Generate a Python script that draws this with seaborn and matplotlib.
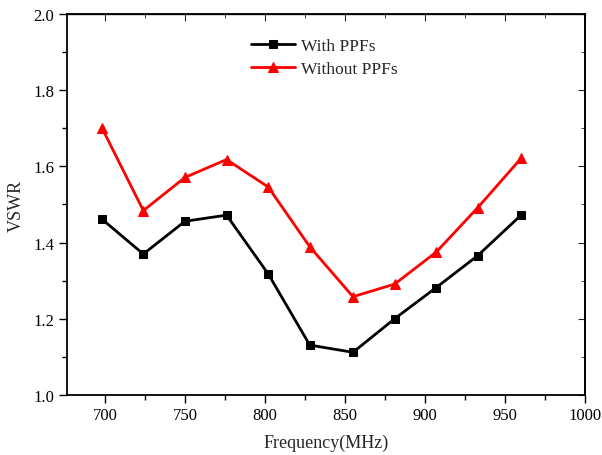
import matplotlib
matplotlib.use("Agg")
import matplotlib.pyplot as plt
from matplotlib.ticker import MultipleLocator
import seaborn as sns
import pandas as pd

freq = [698, 724, 750, 776, 802, 828, 855, 881, 907, 933, 960]
with_ppfs = [1.462, 1.370, 1.456, 1.472, 1.318, 1.131, 1.112, 1.200, 1.282, 1.366, 1.472]
without_ppfs = [1.702, 1.484, 1.571, 1.618, 1.546, 1.389, 1.258, 1.291, 1.375, 1.492, 1.621]

sns.set_style("ticks")
plt.rcParams['font.family'] = ['Liberation Serif', 'DejaVu Serif']

df = pd.DataFrame({"Frequency": freq, "With PPFs": with_ppfs, "Without PPFs": without_ppfs})

fig = plt.figure(figsize=(6.02, 4.56), dpi=100)
ax = fig.add_axes([0.1105, 0.1316, 0.8613, 0.8355])

sns.lineplot(data=df, x="Frequency", y="With PPFs", ax=ax, color="black", marker="s",
             markersize=6, markeredgecolor="black", linewidth=2, label="With PPFs")
sns.lineplot(data=df, x="Frequency", y="Without PPFs", ax=ax, color="red", marker="^",
             markersize=7, markeredgecolor="red", linewidth=2, label="Without PPFs")

ax.set_xlim(676, 1000)
ax.set_ylim(1.0, 2.0)
ax.xaxis.set_major_locator(MultipleLocator(50))
ax.xaxis.set_minor_locator(MultipleLocator(25))
ax.yaxis.set_major_locator(MultipleLocator(0.2))
ax.yaxis.set_minor_locator(MultipleLocator(0.1))
ax.yaxis.set_major_formatter(matplotlib.ticker.FormatStrFormatter('%.1f'))

ax.tick_params(which='both', direction='out', width=1.0, labelsize=12, colors='black')
ax.tick_params(which='major', length=5.5)
ax.tick_params(which='minor', length=3.5)
# mirrored ticks on top and right pointing inward
ax_top = ax.secondary_xaxis('top')
ax_top.xaxis.set_major_locator(MultipleLocator(50))
ax_top.xaxis.set_minor_locator(MultipleLocator(25))
ax_top.tick_params(which='both', direction='in', labeltop=False)
ax_top.tick_params(which='major', length=5)
ax_top.tick_params(which='minor', length=3)
ax_right = ax.secondary_yaxis('right')
ax_right.yaxis.set_major_locator(MultipleLocator(0.2))
ax_right.yaxis.set_minor_locator(MultipleLocator(0.1))
ax_right.tick_params(which='both', direction='in', labelright=False)
ax_right.tick_params(which='major', length=5)
ax_right.tick_params(which='minor', length=3)

for s in ax.spines.values():
    s.set_linewidth(1.3)
    s.set_color('black')
ax_top.spines['top'].set_linewidth(1.0)
ax_right.spines['right'].set_linewidth(1.3)

ax.set_xlabel("Frequency(MHz)", fontsize=13, labelpad=7)
ax.set_ylabel("VSWR", fontsize=13, labelpad=6)

ax.legend(loc='upper left', bbox_to_anchor=(0.355, 0.937), frameon=False, fontsize=12.5,
          borderaxespad=0, borderpad=0, handlelength=2.55, handletextpad=0.35, labelspacing=0.4)

fig.savefig("out.png", dpi=100)
